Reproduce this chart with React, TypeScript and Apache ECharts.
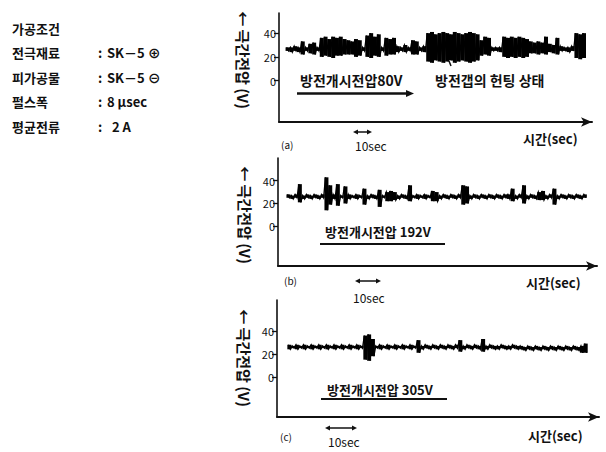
import React, { useEffect, useRef } from "react";
import * as echarts from "echarts";

// ---------- data ----------
const Y_TICKS = [0, 20, 40];
const SAMPLE_STEP_SEC = 2; // each envelope sample covers 2 s (peak, then trough 1 s later)

const CONDITIONS_TITLE = "가공조건";
const CONDITION_NAMES = ["전극재료", "피가공물", "펄스폭", "평균전류"];
const CONDITION_VALUES = ["SK－5 ⊕", "SK－5 ⊖", "8 μsec", "2 A"];

const PANEL_TAGS = ["(a)", "(b)", "(c)"];
const PANEL_NOTES = ["방전개시전압80V", "방전개시전압 192V", "방전개시전압 305V"];
const HUNTING_NOTE = "방전갭의 헌팅 상태";
const Y_TITLE = "← 극간전압 (V)";
const X_TITLE = "시간(sec)";
const SCALE_NOTE = "10sec";

// (a) breakdown voltage 80 V — gap hunting
const A_START = 4;
const A_HI = [
  28, 28, 29, 28, 33, 28, 31, 32, 28,
  36, 37, 35, 37, 36,
  37, 35,
  34, 33,
  35, 34,
  28,
  38, 40, 37, 39,
  28,
  36, 35,
  36,
  29, 28, 30, 28,
  34, 33,
  28, 29,
  40, 41, 39, 40, 41, 40, 39, 41, 40, 39, 40, 41, 40, 39,
  34,
  37, 36,
  28, 28, 28,
  37, 36, 37, 36, 37, 36, 35,
  33, 32, 33, 32,
  37,
  31, 30,
  36,
  29, 28, 28, 29,
  40, 39, 40,
];
const A_LO = [
  25, 24, 25, 24, 22, 25, 23, 22, 25,
  20, 21, 20, 19, 21,
  21, 22,
  22, 22,
  20, 21,
  25,
  20, 19, 21, 20,
  25,
  21, 22,
  22,
  24, 25, 24, 25,
  22, 22,
  25, 24,
  16, 15, 17, 16, 15, 16, 17, 15, 16, 17, 16, 15, 16, 17,
  21,
  22, 21,
  25, 25, 24,
  20, 19, 20, 19, 20, 19, 20,
  23, 23, 22, 23,
  22,
  24, 23,
  22,
  25, 25, 24, 25,
  19, 18, 19,
];

// (b) breakdown voltage 192 V
const B_START = 5;
const B_HI = [
  28, 27, 28,
  37,
  27, 28, 27, 28, 27,
  28,
  43,
  36, 28, 37, 27, 35,
  28, 27, 28, 27,
  33,
  27, 28, 27,
  32,
  27,
  30, 31, 30,
  27, 28,
  27,
  36,
  27, 28, 27, 28,
  27,
  31,
  30,
  27, 28, 27, 28, 27, 28,
  36,
  35,
  27, 28, 27, 28, 27, 28, 27, 28, 27, 28,
  28,
  33,
  27, 28,
  36,
  27, 28, 27,
  30,
  31,
  27, 28,
  33,
  27, 28, 27, 28, 27, 28, 27, 28,
];
const B_LO = [
  25, 24, 25,
  21,
  24, 25, 24, 25, 24,
  25,
  14,
  19, 24, 18, 25, 20,
  24, 25, 24, 25,
  19,
  24, 25, 24,
  17,
  25,
  22, 22, 23,
  24, 25,
  24,
  22,
  25, 24, 25, 24,
  25,
  22,
  22,
  24, 25, 24, 25, 24, 25,
  19,
  20,
  24, 25, 24, 25, 24, 25, 24, 25, 24, 25,
  24,
  22,
  24, 25,
  20,
  24, 25, 24,
  23,
  23,
  24, 25,
  19,
  24, 25, 24, 25, 24, 25, 24, 25,
];

// (c) breakdown voltage 305 V
const C_START = 6;
const C_HI = [
  28, 27, 28, 27, 28, 27, 28, 27, 28, 27, 28, 27, 28, 27, 28, 27, 28, 27, 28, 27,
  36, 37, 33,
  27, 28, 27, 28, 27, 28, 27, 28, 27, 28, 27,
  32,
  27, 28, 27, 28, 27, 28, 27, 28, 27, 28,
  32,
  27, 28, 27, 28, 27,
  33,
  27, 28, 27, 27, 28, 27, 27, 28, 27, 27, 26, 27, 26, 27, 26, 27, 26, 27, 26, 27, 26, 27, 26, 27, 26,
  27, 29,
];
const C_LO = [
  24, 25, 24, 25, 24, 25, 24, 25, 24, 25, 24, 25, 24, 25, 24, 25, 24, 25, 24, 25,
  15, 14, 18,
  25, 24, 25, 24, 25, 24, 25, 24, 25, 24, 25,
  21,
  24, 25, 24, 25, 24, 25, 24, 25, 24, 25,
  22,
  24, 25, 24, 25, 24,
  22,
  24, 25, 24, 24, 25, 24, 24, 25, 24, 24, 23, 24, 23, 24, 23, 24, 23, 24, 23, 24, 23, 24, 23, 24, 23,
  21, 21,
];

// ---------- helpers ----------
const FONT = '"Noto Sans CJK KR", "Noto Sans", sans-serif';
const INK = "#111";

function zigzag(start: number, hi: number[], lo: number[]) {
  const out: number[][] = [];
  for (let i = 0; i < hi.length; i++) {
    out.push([start + i * SAMPLE_STEP_SEC, hi[i]]);
    out.push([start + i * SAMPLE_STEP_SEC + SAMPLE_STEP_SEC / 2, lo[i]]);
  }
  return out;
}

function envelope(start: number, hi: number[], lo: number[]) {
  return hi.map((h, i) => [start + i * SAMPLE_STEP_SEC + SAMPLE_STEP_SEC / 4, lo[i], h]);
}

function text(x: number, y: number, t: string, size: number, extra: any = {}) {
  return {
    type: "text",
    x,
    y,
    silent: true,
    ...extra,
    style: {
      text: t,
      fontSize: size,
      fontFamily: FONT,
      fontWeight: "bold",
      fill: INK,
      align: "left",
      verticalAlign: "middle",
      ...(extra.style || {}),
    },
  };
}

function dblArrow(x1: number, x2: number, y: number) {
  return [
    { type: "line", shape: { x1: x1 + 3, y1: y, x2: x2 - 3, y2: y }, style: { stroke: INK, lineWidth: 1.5 } },
    { type: "polygon", shape: { points: [[x1, y], [x1 + 5, y - 2.5], [x1 + 5, y + 2.5]] }, style: { fill: INK } },
    { type: "polygon", shape: { points: [[x2, y], [x2 - 5, y - 2.5], [x2 - 5, y + 2.5]] }, style: { fill: INK } },
  ];
}

const PANELS = [
  { grid: { left: 279, top: 13, width: 313, height: 109 }, xMax: 164.7, yMax: 57, start: A_START, hi: A_HI, lo: A_LO },
  { grid: { left: 278, top: 158, width: 319, height: 108 }, xMax: 167.9, yMax: 60, start: B_START, hi: B_HI, lo: B_LO },
  { grid: { left: 277, top: 300, width: 322, height: 117 }, xMax: 169.5, yMax: 67, start: C_START, hi: C_HI, lo: C_LO },
];

export default function App() {
  const ref = useRef<HTMLDivElement>(null);

  useEffect(() => {
    if (!ref.current) return;
    const chart = echarts.init(ref.current, undefined, { renderer: "svg" });

    const grids = PANELS.map((p) => p.grid);
    const xAxes = PANELS.map((p, i) => ({
      type: "value",
      gridIndex: i,
      min: 0,
      max: p.xMax,
      axisLine: {
        show: true,
        onZero: false,
        symbol: ["none", "arrow"],
        symbolSize: [7, 11],
        lineStyle: { color: INK, width: 2 },
      },
      axisTick: { show: false },
      axisLabel: { show: false },
      splitLine: { show: false },
    }));
    const yAxes = PANELS.map((p, i) => ({
      type: "value",
      gridIndex: i,
      min: -35,
      max: p.yMax,
      axisLine: { show: true, onZero: false, lineStyle: { color: INK, width: 1.6 } },
      axisTick: { show: true, length: 5, customValues: Y_TICKS, lineStyle: { color: INK, width: 1.3 } },
      axisLabel: {
        show: true,
        customValues: Y_TICKS,
        fontSize: 11,
        fontFamily: FONT,
        color: INK,
        margin: 3,
      },
      splitLine: { show: false },
    }));
    const series: any[] = [];
    PANELS.forEach((p, i) => {
      // vertical strokes spanning each envelope sample (fills the dense band)
      series.push({
        type: "custom",
        xAxisIndex: i,
        yAxisIndex: i,
        data: envelope(p.start, p.hi, p.lo),
        encode: { x: 0, y: [1, 2] },
        silent: true,
        clip: false,
        renderItem: (params: any, api: any) => {
          const t = api.value(0);
          const a = api.coord([t, api.value(1)]);
          const b = api.coord([t, api.value(2)]);
          return {
            type: "line",
            shape: { x1: a[0], y1: a[1], x2: b[0], y2: b[1] },
            style: { stroke: "#000", lineWidth: 4 },
          };
        },
      });
      // zig-zag trace through peaks and troughs
      series.push({
        type: "line",
        xAxisIndex: i,
        yAxisIndex: i,
        data: zigzag(p.start, p.hi, p.lo),
        showSymbol: false,
        symbol: "none",
        clip: false,
        lineStyle: { color: "#000", width: 1.3, join: "miter" },
        silent: true,
      });
    });

    const graphics: any[] = [];
    // left: machining conditions
    graphics.push(text(12, 28, CONDITIONS_TITLE, 13));
    const rowsY = [52, 77, 101, 126];
    CONDITION_NAMES.forEach((n, i) => {
      graphics.push(text(12, rowsY[i], n, 13));
      graphics.push(text(98, rowsY[i], ":", 13));
      graphics.push(text(i === 3 ? 112 : 107, rowsY[i], CONDITION_VALUES[i], 13));
    });

    // y titles
    [
      [243, 60],
      [245, 215],
      [244, 358],
    ].forEach(([x, y]) => {
      graphics.push(
        text(x, y, Y_TITLE, 15, { rotation: -Math.PI / 2, style: { align: "center", verticalAlign: "middle" } })
      );
    });

    // panel (a)
    graphics.push(text(300, 80, PANEL_NOTES[0], 14));
    graphics.push(text(435, 80, HUNTING_NOTE, 14));
    graphics.push({ type: "line", shape: { x1: 297, y1: 93.5, x2: 408, y2: 93.5 }, style: { stroke: INK, lineWidth: 2.5 } });
    graphics.push({ type: "polygon", shape: { points: [[414, 93.5], [406, 90], [406, 97]] }, style: { fill: INK } });
    graphics.push({ type: "line", shape: { x1: 449, y1: 61, x2: 451, y2: 66 }, style: { stroke: INK, lineWidth: 1.5 } });
    graphics.push(text(281, 144, PANEL_TAGS[0], 10, { style: { fontWeight: "normal" } }));
    graphics.push(...dblArrow(353, 372, 132));
    graphics.push(text(355, 145, SCALE_NOTE, 12, { style: { fontWeight: "normal" } }));
    graphics.push(text(523, 138, X_TITLE, 13));

    // panel (b)
    graphics.push(text(325, 231, PANEL_NOTES[1], 13));
    graphics.push({ type: "line", shape: { x1: 320, y1: 244, x2: 445, y2: 244 }, style: { stroke: INK, lineWidth: 2 } });
    graphics.push(text(284, 280, PANEL_TAGS[1], 10, { style: { fontWeight: "normal" } }));
    graphics.push(...dblArrow(355, 381, 281));
    graphics.push(text(353, 297, SCALE_NOTE, 12, { style: { fontWeight: "normal" } }));
    graphics.push(text(526, 282, X_TITLE, 13));

    // panel (c)
    graphics.push(text(327, 389, PANEL_NOTES[2], 13));
    graphics.push({ type: "line", shape: { x1: 321, y1: 399, x2: 447, y2: 399 }, style: { stroke: INK, lineWidth: 2 } });
    graphics.push(text(280, 436, PANEL_TAGS[2], 10, { style: { fontWeight: "normal" } }));
    graphics.push(...dblArrow(325, 357, 428));
    graphics.push(text(328, 441, SCALE_NOTE, 12, { style: { fontWeight: "normal" } }));
    graphics.push(text(528, 435, X_TITLE, 13));

    chart.setOption({
      animation: false,
      backgroundColor: "#fff",
      grid: grids,
      xAxis: xAxes,
      yAxis: yAxes,
      series,
      graphic: graphics,
    });

    return () => chart.dispose();
  }, []);

  return (
    <div
      ref={ref}
      style={{ position: "absolute", left: 0, top: 0, width: 606, height: 452, background: "#fff" }}
    />
  );
}
